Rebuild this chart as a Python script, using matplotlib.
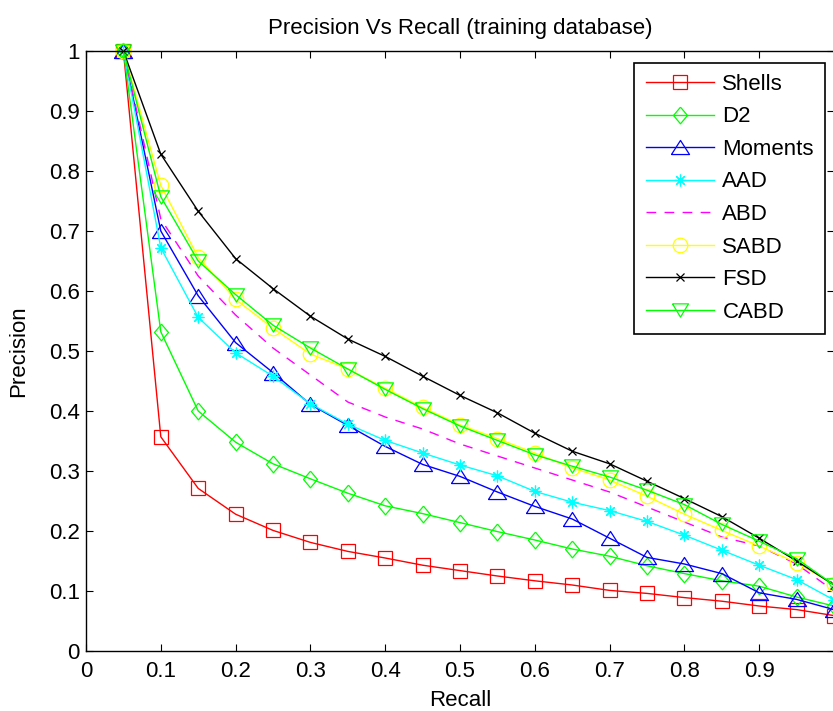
import matplotlib
matplotlib.use("Agg")
import matplotlib.pyplot as plt
from matplotlib.ticker import FixedLocator, FixedFormatter

plt.rcParams['font.family'] = ['Liberation Sans', 'DejaVu Sans']

recall = [0.05, 0.10, 0.15, 0.20, 0.25, 0.30, 0.35, 0.40, 0.45, 0.50,
          0.55, 0.60, 0.65, 0.70, 0.75, 0.80, 0.85, 0.90, 0.95, 1.00]

shells = [1.0, 0.357, 0.271, 0.228, 0.201, 0.181, 0.166, 0.155, 0.143, 0.134,
          0.125, 0.117, 0.110, 0.101, 0.096, 0.089, 0.083, 0.075, 0.069, 0.059]
d2 = [1.0, 0.532, 0.400, 0.348, 0.312, 0.287, 0.263, 0.242, 0.229, 0.214,
      0.199, 0.185, 0.170, 0.158, 0.142, 0.129, 0.117, 0.108, 0.090, 0.075]
moments = [1.0, 0.700, 0.592, 0.514, 0.464, 0.411, 0.376, 0.341, 0.311, 0.291,
           0.265, 0.241, 0.220, 0.188, 0.156, 0.145, 0.129, 0.097, 0.086, 0.069]
aad = [1.0, 0.672, 0.556, 0.497, 0.458, 0.412, 0.378, 0.351, 0.330, 0.310,
       0.292, 0.266, 0.248, 0.234, 0.216, 0.193, 0.168, 0.143, 0.119, 0.085]
abd = [1.0, 0.720, 0.625, 0.560, 0.505, 0.460, 0.415, 0.390, 0.370, 0.345,
       0.325, 0.305, 0.285, 0.265, 0.240, 0.215, 0.190, 0.175, 0.145, 0.100]
sabd = [1.0, 0.776, 0.656, 0.586, 0.538, 0.495, 0.470, 0.438, 0.406, 0.377,
        0.354, 0.330, 0.305, 0.285, 0.258, 0.228, 0.201, 0.175, 0.147, 0.111]
fsd = [1.0, 0.828, 0.733, 0.654, 0.604, 0.558, 0.520, 0.491, 0.458, 0.426,
       0.397, 0.363, 0.333, 0.312, 0.283, 0.254, 0.224, 0.188, 0.150, 0.110]
cabd = [1.0, 0.757, 0.650, 0.594, 0.543, 0.505, 0.470, 0.436, 0.404, 0.375,
        0.351, 0.327, 0.308, 0.290, 0.268, 0.244, 0.211, 0.183, 0.154, 0.110]

labels = ["Shells", "D2", "Moments", "AAD", "ABD", "SABD", "FSD", "CABD"]
xticks = [0, 0.1, 0.2, 0.3, 0.4, 0.5, 0.6, 0.7, 0.8, 0.9, 1.0]
# the "1" label falls off the right edge of the reference image
xticklabels = ["0", "0.1", "0.2", "0.3", "0.4", "0.5", "0.6", "0.7", "0.8", "0.9", ""]
yticks = [0, 0.1, 0.2, 0.3, 0.4, 0.5, 0.6, 0.7, 0.8, 0.9, 1.0]
yticklabels = ["0", "0.1", "0.2", "0.3", "0.4", "0.5", "0.6", "0.7", "0.8", "0.9", "1"]

tri_up = [(-1, -0.78), (1, -0.78), (0, 0.78), (-1, -0.78)]
tri_dn = [(-1, 0.83), (1, 0.83), (0, -0.83), (-1, 0.83)]
diamond = [(0, 1), (0.84, 0), (0, -1), (-0.84, 0), (0, 1)]

styles = [
    dict(color=(1, 0, 0), marker='s', ms=10.2),
    dict(color=(0, 1, 0), marker=diamond, ms=12),
    dict(color=(0, 0, 1), marker=tri_up, ms=13),
    dict(color=(0, 1, 1), marker=(8, 2, 0), ms=8.5),
    dict(color=(1, 0, 1), marker='None', ms=0, ls=(0, (7, 6))),
    dict(color=(1, 1, 0), marker='o', ms=10.5),
    dict(color=(0, 0, 0), marker='x', ms=5.5),
    dict(color=(0, 1, 0), marker=tri_dn, ms=11.5),
]

series = [shells, d2, moments, aad, abd, sabd, fsd, cabd]

fig = plt.figure(figsize=(8.33, 7.11), dpi=100)
ax = fig.add_axes([86 / 833, 60 / 711, 748 / 833, 600 / 711])

for ys, lab, st in zip(series, labels, styles):
    ax.plot(recall, ys, color=st['color'], marker=st['marker'], markersize=st['ms'],
            markerfacecolor='none', markeredgecolor=st['color'], markeredgewidth=0.9,
            linestyle=st.get('ls', '-'), linewidth=1.0, label=lab, clip_on=False)

ax.set_xlim(0, 1)
ax.set_ylim(0, 1)
ax.xaxis.set_major_locator(FixedLocator(xticks))
ax.xaxis.set_major_formatter(FixedFormatter(xticklabels))
ax.yaxis.set_major_locator(FixedLocator(yticks))
ax.yaxis.set_major_formatter(FixedFormatter(yticklabels))
ax.tick_params(axis='both', direction='in', top=True, right=True, length=5, width=0.8,
               labelsize=16, colors='black')
ax.tick_params(axis='x', pad=7)
ax.tick_params(axis='y', pad=4.5)
for sp in ax.spines.values():
    sp.set_linewidth(1.0)
    sp.set_color('black')

ax.set_xlabel("Recall", fontsize=16, labelpad=6)
ax.set_ylabel("Precision", fontsize=16, labelpad=14)
ax.set_title("Precision Vs Recall (training database)", fontsize=16, pad=12)

leg = ax.legend(loc='upper right', bbox_to_anchor=(825 / 833, 1 - 62.7 / 711),
                bbox_transform=fig.transFigure, borderaxespad=0, fontsize=16,
                handlelength=3.1, handletextpad=0.36, labelspacing=0.52,
                borderpad=0.5, fancybox=False, framealpha=1, edgecolor='black')
leg.get_frame().set_linewidth(1.2)

fig.savefig("out.png", dpi=100)
